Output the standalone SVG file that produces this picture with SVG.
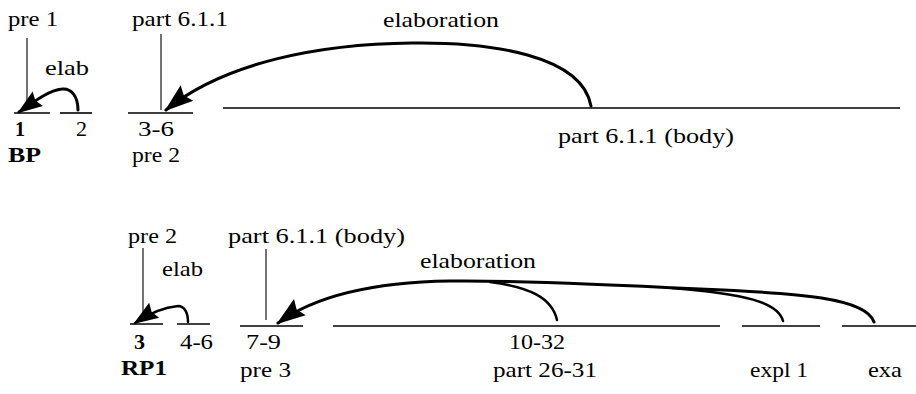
<svg xmlns="http://www.w3.org/2000/svg" width="916" height="394" viewBox="0 0 916 394">
<style>
text{font-family:"Liberation Serif","Times New Roman",serif;font-size:21px;fill:#000}
.b{font-weight:bold}
.seg{stroke:#000;stroke-width:1.6;fill:none}
.thin{stroke:#000;stroke-width:1.1;fill:none}
.arc{stroke:#000;stroke-width:3;fill:none;stroke-linecap:round}
.br{stroke:#000;stroke-width:2.5;fill:none;stroke-linecap:round}
</style>
<defs>
<marker id="ah" markerUnits="userSpaceOnUse" viewBox="-32 -12 36 24" refX="0" refY="0" markerWidth="36" markerHeight="24" orient="auto">
<path d="M2,0 L-27,-10 L-23,0 L-27,10 Z" fill="#000"/>
</marker>
<marker id="ahs" markerUnits="userSpaceOnUse" viewBox="-28 -11 32 22" refX="0" refY="0" markerWidth="32" markerHeight="22" orient="auto">
<path d="M2,0 L-23,-9 L-20,0 L-23,9 Z" fill="#000"/>
</marker>
</defs>
<rect width="916" height="394" fill="#fff"/>

<g id="bp-1">
<line class="seg" x1="14" y1="113" x2="50" y2="113"/>
<text class="b" x="15" y="136" textLength="10" lengthAdjust="spacingAndGlyphs">1</text>
<text x="8" y="26" textLength="50" lengthAdjust="spacingAndGlyphs">pre 1</text>
<line class="thin" x1="27" y1="38" x2="27" y2="110"/>
</g>
<g id="bp-2">
<line class="seg" x1="60" y1="113" x2="92" y2="113"/>
<text x="76" y="136" textLength="11" lengthAdjust="spacingAndGlyphs">2</text>
</g>
<g id="bp-label"><text class="b" x="8" y="162" textLength="33" lengthAdjust="spacingAndGlyphs">BP</text></g>
<g id="bp-3-6">
<line class="seg" x1="128" y1="113" x2="193" y2="113"/>
<text x="132" y="26" textLength="96" lengthAdjust="spacingAndGlyphs">part 6.1.1</text>
<line class="thin" x1="161" y1="34" x2="161" y2="110"/>
<text x="138" y="136" textLength="36" lengthAdjust="spacingAndGlyphs">3-6</text>
<text x="132" y="162" textLength="48" lengthAdjust="spacingAndGlyphs">pre 2</text>
</g>
<g id="bp-body">
<line class="seg" x1="223" y1="108" x2="900" y2="108"/>
<text x="558" y="143" textLength="176" lengthAdjust="spacingAndGlyphs">part 6.1.1 (body)</text>
</g>

<g id="rp-3">
<line class="seg" x1="130" y1="324" x2="163" y2="324"/>
<text x="128" y="243" textLength="49" lengthAdjust="spacingAndGlyphs">pre 2</text>
<line class="thin" x1="143" y1="248" x2="143" y2="321"/>
<text class="b" x="134" y="349" textLength="11" lengthAdjust="spacingAndGlyphs">3</text>
</g>
<g id="rp-4-6">
<line class="seg" x1="177" y1="324" x2="210" y2="324"/>
<text x="180" y="349" textLength="33" lengthAdjust="spacingAndGlyphs">4-6</text>
</g>
<g id="rp-label"><text class="b" x="121" y="375" textLength="46" lengthAdjust="spacingAndGlyphs">RP1</text></g>
<g id="rp-7-9">
<line class="seg" x1="240" y1="326" x2="303" y2="326"/>
<text x="228" y="243" textLength="177" lengthAdjust="spacingAndGlyphs">part 6.1.1 (body)</text>
<line class="thin" x1="266" y1="249" x2="266" y2="320"/>
<text x="246" y="349" textLength="35" lengthAdjust="spacingAndGlyphs">7-9</text>
<text x="240" y="377" textLength="51" lengthAdjust="spacingAndGlyphs">pre 3</text>
</g>
<g id="rp-10-32">
<line class="seg" x1="333" y1="326" x2="720" y2="326"/>
<text x="509" y="349" textLength="56" lengthAdjust="spacingAndGlyphs">10-32</text>
<text x="493" y="377" textLength="104" lengthAdjust="spacingAndGlyphs">part 26-31</text>
</g>
<g id="rp-expl">
<line class="seg" x1="742" y1="326" x2="820" y2="326"/>
<text x="750" y="377" textLength="58" lengthAdjust="spacingAndGlyphs">expl 1</text>
</g>
<g id="rp-exa">
<line class="seg" x1="842" y1="326" x2="916" y2="326"/>
<text x="868" y="377" textLength="34" lengthAdjust="spacingAndGlyphs">exa</text>
</g>

<g id="connectors">
<path class="arc" d="M78,110 C78,96 71,88 62,89 C50,90 36,100 19,112" marker-end="url(#ahs)"/>
<text x="45" y="75" textLength="44" lengthAdjust="spacingAndGlyphs">elab</text>
<path class="arc" d="M591,106 C582,55 490,42 412,43 C320,44 225,62 166,110" marker-end="url(#ah)"/>
<text x="383" y="27" textLength="116" lengthAdjust="spacingAndGlyphs">elaboration</text>

<path class="br" d="M188,322 C188,312 184,306 178,306 C166,307 150,313 135,323" marker-end="url(#ahs)"/>
<text x="162" y="276" textLength="41" lengthAdjust="spacingAndGlyphs">elab</text>
<path class="arc" d="M874,322 C866,298 800,293 700,289 C620,285 520,280 450,281 C380,282 318,294 278,323" marker-end="url(#ah)"/>
<path class="br" d="M557,320 C552,298 530,287 490,282"/>
<path class="br" d="M783,321 C778,302 745,294 672,288"/>
<text x="420" y="268" textLength="116" lengthAdjust="spacingAndGlyphs">elaboration</text>
</g>
</svg>
